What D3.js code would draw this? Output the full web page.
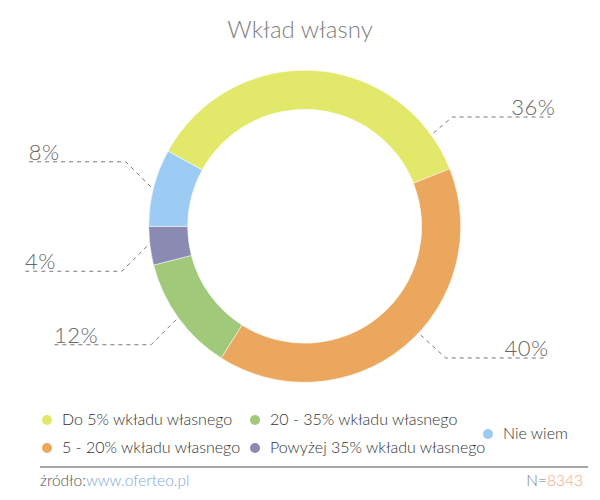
<!DOCTYPE html>
<html>
<head>
<meta charset="utf-8">
<script src="https://cdn.jsdelivr.net/npm/d3@7"></script>
<style>
  body { margin: 0; background: #fff; }
  svg { font-family: Lato, "Open Sans", sans-serif; }
</style>
</head>
<body>
<svg id="chart" width="600" height="500"></svg>
<script>
var categories = ["Do 5% wkładu własnego", "5 - 20% wkładu własnego", "20 - 35% wkładu własnego", "Powyżej 35% wkładu własnego", "Nie wiem"];
var shares = [36, 40, 12, 4, 8];
var colors = ["#e2e869", "#eba75e", "#a1c97a", "#8b8ab3", "#9ccbf3"];
var title = "Wkład własny";
var sourceUrl = "www.oferteo.pl";
var sampleSize = 8343;

var svg = d3.select("#chart");
var center = [304.7, 226.3];
var outerR = 156, innerR = 117;

//title
svg.append("text")
	.attr("x", 300)
	.attr("y", 38)
	.attr("text-anchor", "middle")
	.attr("font-size", "24px")
	.attr("font-weight", 300)
	.attr("fill", "#808080")
	.text(title);

var pie = d3.pie()
	.sort(null)
	.value(d => d)
	.startAngle(-61.2 * Math.PI / 180)
	.endAngle((360 - 61.2) * Math.PI / 180);

var arcs = pie(shares);

var arc = d3.arc()
	.innerRadius(innerR)
	.outerRadius(outerR);

var g = svg.append("g")
	.attr("transform", "translate(" + center[0] + "," + center[1] + ")");

g.selectAll("path")
	.data(arcs)
	.enter()
	.append("path")
	.attr("d", arc)
	.attr("fill", (_, i) => colors[i])
	.attr("stroke", "#fff")
	.attr("stroke-width", 0.5);

//data labels with bent connectors
var startR = outerR + 3;
var diag = 25;
var lineLen = 98;
var minLineY = 117 - center[1]; //keep labels below the title
var maxLineY = 358 - center[1]; //and above the legend

arcs.forEach(function(d, i) {

	var a = (d.startAngle + d.endAngle) / 2;
	var side = Math.sin(a) >= 0 ? 1 : -1;
	var dx = diag, dy = diag;

	var sy = -startR * Math.cos(a);
	var vdir = sy < 0 ? -1 : 1;

	//slide the anchor along the arc when the label has to move
	if (sy + vdir * dy < minLineY) {
		dx = 19; dy = 16;
		a = side * Math.acos(-(minLineY + dy) / startR);
	} else if (sy + vdir * dy > maxLineY) {
		dy = 23;
		a = side * Math.acos(-(maxLineY - dy) / startR);
		a = side > 0 ? a : 2 * Math.PI - a;
	}

	var sx = startR * Math.sin(a);
	sy = -startR * Math.cos(a);

	var bx = sx + side * dx;
	var by = sy + vdir * dy;
	var ex = bx + side * lineLen;

	g.append("path")
		.attr("d", "M" + sx + "," + sy + "L" + bx + "," + by + "L" + ex + "," + by)
		.attr("fill", "none")
		.attr("stroke", "#777")
		.attr("stroke-width", 1)
		.attr("stroke-dasharray", "4,4");

	g.append("text")
		.attr("x", side > 0 ? ex + 5 : ex + 1)
		.attr("y", by - 2)
		.attr("text-anchor", side > 0 ? "end" : "start")
		.attr("font-size", "22px")
		.attr("font-weight", 300)
		.attr("letter-spacing", "0.5px")
		.attr("fill", "#666")
		.text(shares[i] + "%");
});

//legend
var colX = [47, 255, 488];
var rowY = [420, 448];

var legend = svg.append("g");

categories.forEach(function(name, i) {

	var col = Math.floor(i / 2);
	var inCol = categories.filter((_, j) => Math.floor(j / 2) == col).length;
	var y = inCol == 1 ? (rowY[0] + rowY[1]) / 2 : rowY[i % 2];
	var x = colX[col];

	legend.append("circle")
		.attr("cx", x)
		.attr("cy", y)
		.attr("r", 5)
		.attr("fill", colors[i]);

	legend.append("text")
		.attr("x", x + 15)
		.attr("y", y + 5)
		.attr("font-size", "16px")
		.attr("font-weight", 300)
		.attr("fill", "#333")
		.text(name);
});

//footer
svg.append("line")
	.attr("x1", 40)
	.attr("x2", 588)
	.attr("y1", 467)
	.attr("y2", 467)
	.attr("stroke", "#888")
	.attr("stroke-width", 1.5);

var src = svg.append("text")
	.attr("x", 40)
	.attr("y", 486)
	.attr("font-size", "15.5px")
	.attr("font-weight", 300)
	.attr("fill", "#555");

src.append("tspan").text("źródło:");
src.append("tspan").attr("fill", "#7fa7dc").text(sourceUrl);

var n = svg.append("text")
	.attr("x", 583)
	.attr("y", 486)
	.attr("text-anchor", "end")
	.attr("font-size", "15.5px")
	.attr("font-weight", 300)
	.attr("fill", "#777");

n.append("tspan").text("N=");
n.append("tspan").attr("fill", "#f5a97a").text(sampleSize);
</script>
</body>
</html>
